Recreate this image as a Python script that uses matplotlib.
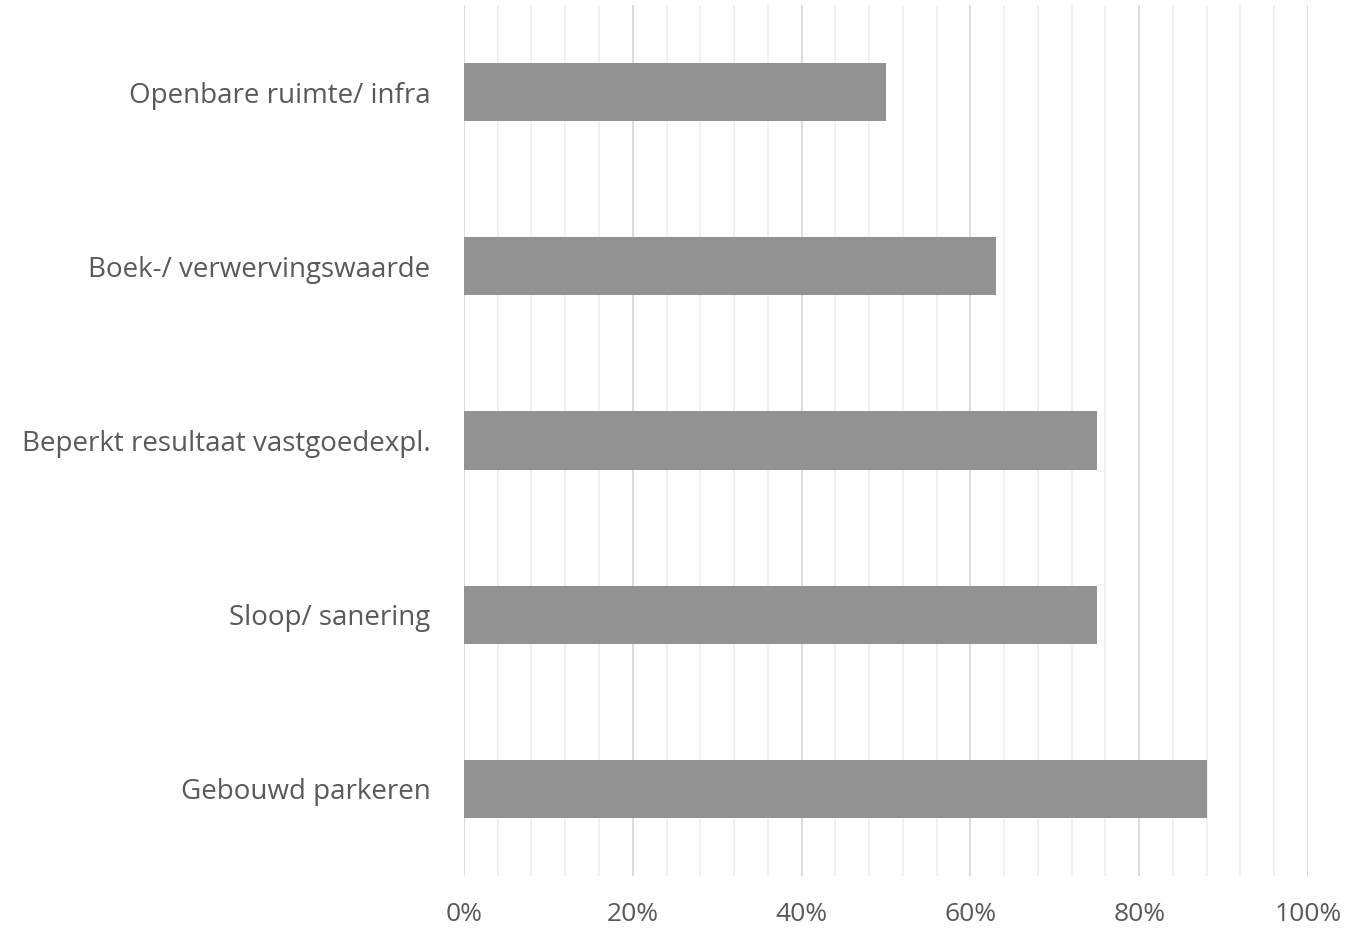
import numpy as np
from matplotlib import pyplot as plt
from matplotlib.ticker import MultipleLocator, FuncFormatter

plt.rcParams['font.family'] = ['Open Sans', 'DejaVu Sans']

categories = ['Gebouwd parkeren', 'Sloop/ sanering', 'Beperkt resultaat vastgoedexpl.',
              'Boek-/ verwervingswaarde', 'Openbare ruimte/ infra']
shares = [0.88, 0.75, 0.75, 0.63, 0.50]

TEXT = '#595959'

fig = plt.figure(figsize=(13.57, 9.31), dpi=100)
ax = fig.add_axes([0.3419, 0.0591, 0.6220, 0.9355])

y = np.arange(len(categories))
ax.barh(y, shares, height=0.333, color='#929292', zorder=3)

ax.set_xlim(0, 1)
ax.set_ylim(-0.5, len(categories) - 0.5)
ax.xaxis.set_major_locator(MultipleLocator(0.2))
ax.xaxis.set_minor_locator(MultipleLocator(0.04))
ax.xaxis.set_major_formatter(FuncFormatter(lambda v, _: '%d%%' % round(v * 100)))
ax.grid(axis='x', which='major', color='#d9d9d9', linewidth=1.3, zorder=0)
ax.grid(axis='x', which='minor', color='#f0f0f0', linewidth=1.3, zorder=0)

ax.set_yticks(y)
ax.set_yticklabels(categories)
ax.tick_params(axis='both', which='both', length=0, labelcolor=TEXT)
ax.tick_params(axis='x', pad=19, labelsize=19)
ax.tick_params(axis='y', pad=24, labelsize=20)

for s in ax.spines.values():
    s.set_visible(False)

fig.savefig('out.png', dpi=100)
